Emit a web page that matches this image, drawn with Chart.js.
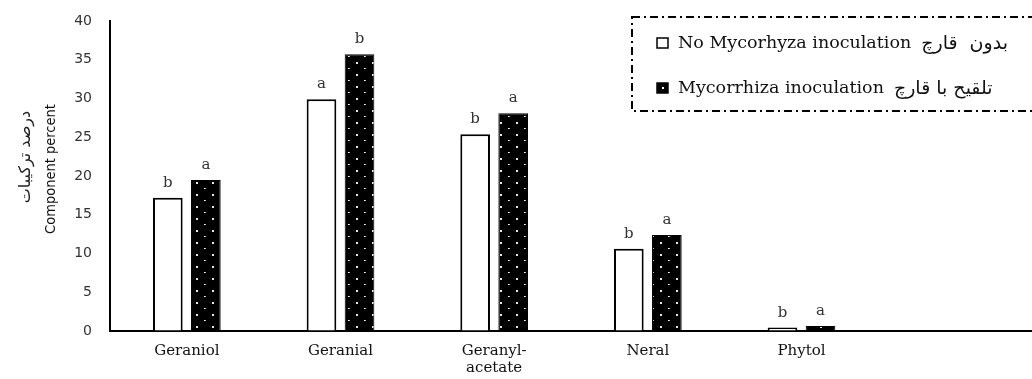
<!DOCTYPE html>
<html>
<head>
<meta charset="utf-8">
<script src="https://cdn.jsdelivr.net/npm/chart.js@4/dist/chart.umd.min.js"></script>
<style>
  html, body { margin: 0; padding: 0; background: #fff; }
  canvas { display: block; }
</style>
</head>
<body>
<canvas id="chart" width="1032" height="379"></canvas>
<script>
// Components measured in the essential oil
const categories = ['Geraniol', 'Geranial', ['Geranyl-', 'acetate'], 'Neral', 'Phytol', ''];

// Component percent per treatment
const noInoculation = [17.2, 29.9, 25.4, 10.6, 0.45, null];
const inoculation   = [19.5, 35.7, 28.1, 12.4, 0.65, null];

// Mean-separation letters above each bar
const lettersNo  = ['b', 'a', 'b', 'b', 'b', ''];
const lettersYes = ['a', 'b', 'a', 'a', 'a', ''];

// Legend labels: English, then Persian (Arabic presentation forms, already joined)
const legendEn = ['No Mycorhyza inoculation', 'Mycorrhiza inoculation'];
const legendFa = [
  '\uFE91\uFEAA\uFEED\uFEE5  \uFED7\uFE8E\uFEAD\uFB7A',              // بدون  قارچ
  '\uFE97\uFEE0\uFED8\uFBFF\uFEA2 \uFE91\uFE8E \uFED7\uFE8E\uFEAD\uFB7A' // تلقیح با قارچ
];

// Axis titles
const yTitleFa = '\uFEA9\uFEAD\uFEBB\uFEAA \uFE97\uFEAE\uFB90\uFBFF\uFE92\uFE8E\uFE95'; // درصد ترکیبات
const yTitleEn = 'Component percent';

const yTicks = { min: 0, max: 40, step: 5 };

const SERIF = '"DejaVu Serif", "Liberation Serif", serif';
const SANS = '"DejaVu Sans", "Liberation Sans", sans-serif';
const NARROW = '"Liberation Sans Narrow", "DejaVu Sans Condensed", "Liberation Sans", sans-serif';

// Black fill with staggered white dots
function dottedPattern() {
  const c = document.createElement('canvas');
  c.width = 16; c.height = 12;
  const g = c.getContext('2d');
  g.fillStyle = '#000';
  g.fillRect(0, 0, 16, 12);
  g.fillStyle = '#e8e8e8';
  g.fillRect(4, 2, 2, 2);
  g.fillStyle = '#bbbbbb';
  g.fillRect(12, 8, 2, 1);
  g.fillStyle = '#ffffff';
  g.fillRect(12, 8, 1, 1);
  return g.createPattern(c, 'repeat');
}
const dots = dottedPattern();

const letterPlugin = {
  id: 'letters',
  afterDatasetsDraw(chart) {
    const ctx = chart.ctx;
    ctx.save();
    ctx.font = '15px ' + SERIF;
    ctx.fillStyle = '#333';
    ctx.textAlign = 'center';
    ctx.textBaseline = 'alphabetic';
    [lettersNo, lettersYes].forEach((letters, di) => {
      const meta = chart.getDatasetMeta(di);
      meta.data.forEach((bar, i) => {
        if (!letters[i]) return;
        ctx.fillText(letters[i], bar.x, bar.y - 11);
      });
    });
    ctx.restore();
  }
};

const yTitlePlugin = {
  id: 'yTitle',
  afterDraw(chart) {
    const ctx = chart.ctx;
    ctx.save();
    ctx.fillStyle = '#222';
    ctx.textAlign = 'center';
    ctx.textBaseline = 'middle';
    ctx.translate(26, 157);
    ctx.rotate(-Math.PI / 2);
    ctx.font = '16px ' + SANS;
    ctx.fillText(yTitleFa, 0, 0);
    ctx.restore();
    ctx.save();
    ctx.fillStyle = '#111';
    ctx.textAlign = 'center';
    ctx.textBaseline = 'middle';
    ctx.translate(51, 169);
    ctx.rotate(-Math.PI / 2);
    ctx.font = '14.5px ' + NARROW;
    ctx.fillText(yTitleEn, 0, 0);
    ctx.restore();
  }
};

const legendPlugin = {
  id: 'boxLegend',
  afterDraw(chart) {
    const ctx = chart.ctx;
    ctx.save();
    // dash-dot frame
    ctx.strokeStyle = '#000';
    ctx.lineWidth = 2;
    ctx.setLineDash([8, 4, 2, 4]);
    ctx.strokeRect(632, 17, 420, 94);
    ctx.setLineDash([]);
    const rows = [43, 88];
    chart.data.datasets.forEach((ds, i) => {
      const y = rows[i];
      // swatch
      ctx.fillStyle = i === 0 ? '#fff' : '#000';
      ctx.fillRect(657, y - 5, 11, 10);
      ctx.lineWidth = 1.5;
      ctx.strokeStyle = '#000';
      ctx.strokeRect(657, y - 5, 11, 10);
      if (i === 1) { ctx.fillStyle = '#fff'; ctx.fillRect(662, y - 1, 2, 2); }
      ctx.fillStyle = '#111';
      ctx.textBaseline = 'middle';
      ctx.textAlign = 'left';
      ctx.font = '17.5px ' + SERIF;
      ctx.fillText(legendEn[i], 678, y);
      const w = ctx.measureText(legendEn[i]).width;
      ctx.font = '19px ' + SANS;
      ctx.fillText(legendFa[i], 678 + w + 10, y + 1);
    });
    ctx.restore();
  }
};

new Chart(document.getElementById('chart'), {
  type: 'bar',
  data: {
    labels: categories,
    datasets: [
      {
        label: legendEn[0],
        data: noInoculation,
        backgroundColor: '#ffffff',
        borderColor: '#000000',
        borderWidth: 2,
        categoryPercentage: 0.495,
        barPercentage: 0.78
      },
      {
        label: legendEn[1],
        data: inoculation,
        backgroundColor: dots,
        borderColor: '#000000',
        borderWidth: 1,
        categoryPercentage: 0.495,
        barPercentage: 0.78
      }
    ]
  },
  options: {
    responsive: false,
    animation: false,
    devicePixelRatio: 1,
    layout: { padding: { top: 21, right: 0, bottom: 0, left: 0 } },
    plugins: {
      legend: { display: false },
      tooltip: { enabled: false },
      title: { display: false }
    },
    scales: {
      x: {
        grid: { display: false, drawTicks: false },
        border: { display: true, color: '#000', width: 2 },
        ticks: {
          color: '#111',
          font: { family: SERIF, size: 15, lineHeight: 1.1 },
          padding: 12,
          maxRotation: 0,
          autoSkip: false
        },
        afterFit(scale) { scale.height = 48; }
      },
      y: {
        min: yTicks.min,
        max: yTicks.max,
        // invisible tick marks keep labels clear of the axis line
        grid: { display: true, drawOnChartArea: false, drawTicks: true, tickLength: 14, color: 'rgba(0,0,0,0)' },
        border: { display: true, color: '#000', width: 2 },
        ticks: {
          stepSize: yTicks.step,
          color: '#333',
          font: { family: SANS, size: 14 },
          padding: 4
        },
        afterFit(scale) { scale.width = 110; }
      }
    }
  },
  plugins: [letterPlugin, yTitlePlugin, legendPlugin]
});
</script>
</body>
</html>
